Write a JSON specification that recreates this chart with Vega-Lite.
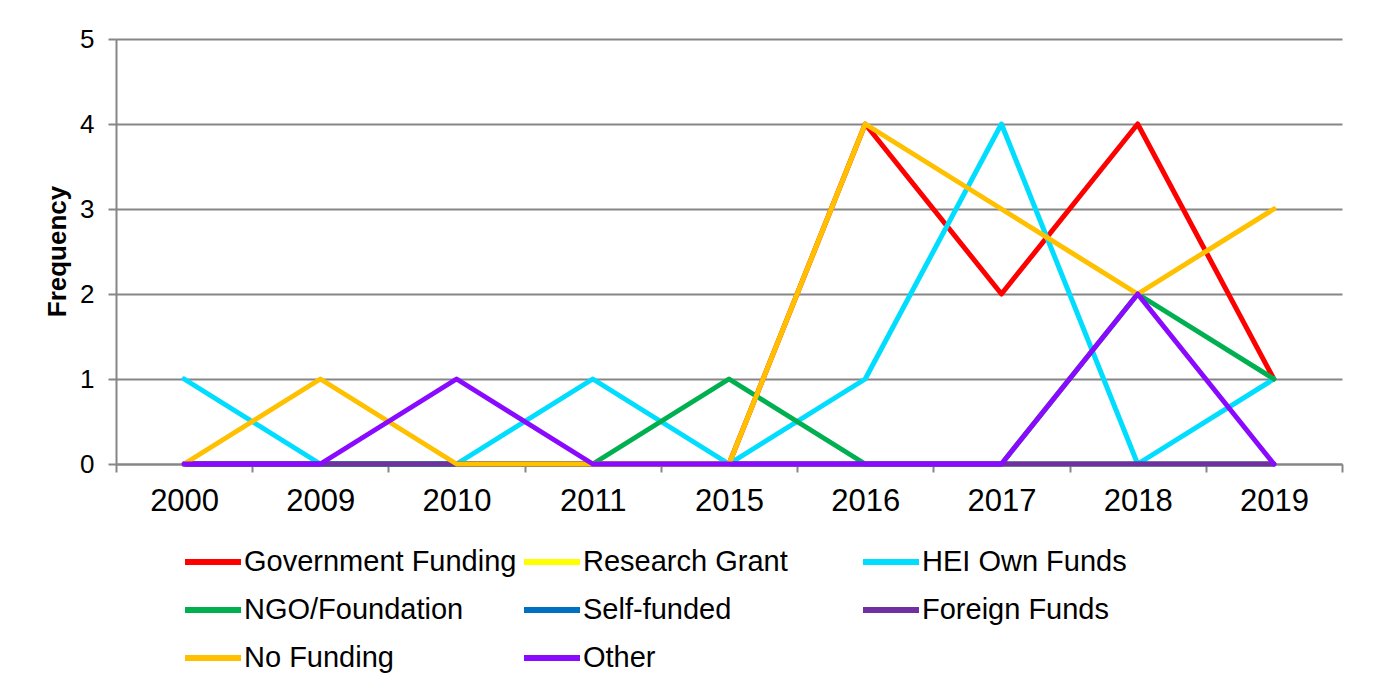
{
  "$schema": "https://vega.github.io/schema/vega-lite/v6.json",
  "autosize": {"type": "none"},
  "width": 1226,
  "height": 425,
  "padding": {"left": 116, "top": 39, "right": 35, "bottom": 224},
  "background": "white",
  "config": {
    "view": {"stroke": null},
    "font": "Liberation Sans"
  },
  "data": {
    "values": [
      {"year": "2000", "series": "Government Funding", "value": 0},
      {"year": "2009", "series": "Government Funding", "value": 0},
      {"year": "2010", "series": "Government Funding", "value": 0},
      {"year": "2011", "series": "Government Funding", "value": 0},
      {"year": "2015", "series": "Government Funding", "value": 0},
      {"year": "2016", "series": "Government Funding", "value": 4},
      {"year": "2017", "series": "Government Funding", "value": 2},
      {"year": "2018", "series": "Government Funding", "value": 4},
      {"year": "2019", "series": "Government Funding", "value": 1},
      {"year": "2000", "series": "Research Grant", "value": 0},
      {"year": "2009", "series": "Research Grant", "value": 0},
      {"year": "2010", "series": "Research Grant", "value": 0},
      {"year": "2011", "series": "Research Grant", "value": 0},
      {"year": "2015", "series": "Research Grant", "value": 0},
      {"year": "2016", "series": "Research Grant", "value": 0},
      {"year": "2017", "series": "Research Grant", "value": 0},
      {"year": "2018", "series": "Research Grant", "value": 0},
      {"year": "2019", "series": "Research Grant", "value": 0},
      {"year": "2000", "series": "HEI Own Funds", "value": 1},
      {"year": "2009", "series": "HEI Own Funds", "value": 0},
      {"year": "2010", "series": "HEI Own Funds", "value": 0},
      {"year": "2011", "series": "HEI Own Funds", "value": 1},
      {"year": "2015", "series": "HEI Own Funds", "value": 0},
      {"year": "2016", "series": "HEI Own Funds", "value": 1},
      {"year": "2017", "series": "HEI Own Funds", "value": 4},
      {"year": "2018", "series": "HEI Own Funds", "value": 0},
      {"year": "2019", "series": "HEI Own Funds", "value": 1},
      {"year": "2000", "series": "NGO/Foundation", "value": 0},
      {"year": "2009", "series": "NGO/Foundation", "value": 0},
      {"year": "2010", "series": "NGO/Foundation", "value": 0},
      {"year": "2011", "series": "NGO/Foundation", "value": 0},
      {"year": "2015", "series": "NGO/Foundation", "value": 1},
      {"year": "2016", "series": "NGO/Foundation", "value": 0},
      {"year": "2017", "series": "NGO/Foundation", "value": 0},
      {"year": "2018", "series": "NGO/Foundation", "value": 2},
      {"year": "2019", "series": "NGO/Foundation", "value": 1},
      {"year": "2000", "series": "Self-funded", "value": 0},
      {"year": "2009", "series": "Self-funded", "value": 0},
      {"year": "2010", "series": "Self-funded", "value": 0},
      {"year": "2011", "series": "Self-funded", "value": 0},
      {"year": "2015", "series": "Self-funded", "value": 0},
      {"year": "2016", "series": "Self-funded", "value": 0},
      {"year": "2017", "series": "Self-funded", "value": 0},
      {"year": "2018", "series": "Self-funded", "value": 0},
      {"year": "2019", "series": "Self-funded", "value": 0},
      {"year": "2000", "series": "Foreign Funds", "value": 0},
      {"year": "2009", "series": "Foreign Funds", "value": 0},
      {"year": "2010", "series": "Foreign Funds", "value": 0},
      {"year": "2011", "series": "Foreign Funds", "value": 0},
      {"year": "2015", "series": "Foreign Funds", "value": 0},
      {"year": "2016", "series": "Foreign Funds", "value": 0},
      {"year": "2017", "series": "Foreign Funds", "value": 0},
      {"year": "2018", "series": "Foreign Funds", "value": 0},
      {"year": "2019", "series": "Foreign Funds", "value": 0},
      {"year": "2000", "series": "No Funding", "value": 0},
      {"year": "2009", "series": "No Funding", "value": 1},
      {"year": "2010", "series": "No Funding", "value": 0},
      {"year": "2011", "series": "No Funding", "value": 0},
      {"year": "2015", "series": "No Funding", "value": 0},
      {"year": "2016", "series": "No Funding", "value": 4},
      {"year": "2017", "series": "No Funding", "value": 3},
      {"year": "2018", "series": "No Funding", "value": 2},
      {"year": "2019", "series": "No Funding", "value": 3},
      {"year": "2000", "series": "Other", "value": 0},
      {"year": "2009", "series": "Other", "value": 0},
      {"year": "2010", "series": "Other", "value": 1},
      {"year": "2011", "series": "Other", "value": 0},
      {"year": "2015", "series": "Other", "value": 0},
      {"year": "2016", "series": "Other", "value": 0},
      {"year": "2017", "series": "Other", "value": 0},
      {"year": "2018", "series": "Other", "value": 2},
      {"year": "2019", "series": "Other", "value": 0}
    ]
  },
  "mark": {"type": "line", "strokeWidth": 5, "strokeJoin": "round", "strokeCap": "round"},
  "encoding": {
    "x": {
      "field": "year",
      "type": "ordinal",
      "sort": null,
      "bandPosition": 0.5,
      "scale": {"type": "band", "paddingInner": 0, "paddingOuter": 0},
      "axis": {
        "title": null,
        "labelAngle": 0,
        "tickBand": "extent",
        "grid": false,
        "domainColor": "#868686",
        "domainWidth": 2,
        "tickColor": "#868686",
        "tickWidth": 2,
        "tickSize": 8,
        "labelFont": "Liberation Sans",
        "labelFontSize": 31,
        "labelColor": "#000000",
        "labelPadding": 14
      }
    },
    "y": {
      "field": "value",
      "type": "quantitative",
      "scale": {"domain": [0, 5], "nice": false},
      "axis": {
        "values": [0, 1, 2, 3, 4, 5],
        "title": "Frequency",
        "titleFont": "Liberation Sans",
        "titleFontSize": 26,
        "titleFontWeight": "bold",
        "titleColor": "#000000",
        "titleX": -51,
        "titleY": 212,
        "titleAngle": -90,
        "titleAlign": "center",
        "titleBaseline": "alphabetic",
        "grid": true,
        "gridColor": "#868686",
        "gridWidth": 2,
        "domainColor": "#868686",
        "domainWidth": 2,
        "tickColor": "#868686",
        "tickWidth": 2,
        "tickSize": 8,
        "labelFont": "Liberation Sans",
        "labelFontSize": 26,
        "labelColor": "#000000",
        "labelPadding": 14
      }
    },
    "color": {
      "field": "series",
      "type": "nominal",
      "sort": null,
      "scale": {
        "domain": ["Government Funding", "Research Grant", "HEI Own Funds", "NGO/Foundation", "Self-funded", "Foreign Funds", "No Funding", "Other"],
        "range": ["#FF0000", "#FFFF00", "#00DDFF", "#00B050", "#0070C0", "#7030A0", "#FFC000", "#8A0AFF"]
      },
      "legend": {
        "title": null,
        "orient": "none",
        "legendX": 66,
        "legendY": 492,
        "columns": 3,
        "direction": "horizontal",
        "gridAlign": "all",
        "padding": 0,
        "columnPadding": -5,
        "rowPadding": 2,
        "symbolType": "stroke",
        "symbolSize": 3136,
        "symbolStrokeWidth": 6,
        "labelFont": "Liberation Sans",
        "labelFontSize": 29,
        "labelColor": "#000000",
        "labelOffset": 0,
        "labelLimit": 0
      }
    }
  }
}
